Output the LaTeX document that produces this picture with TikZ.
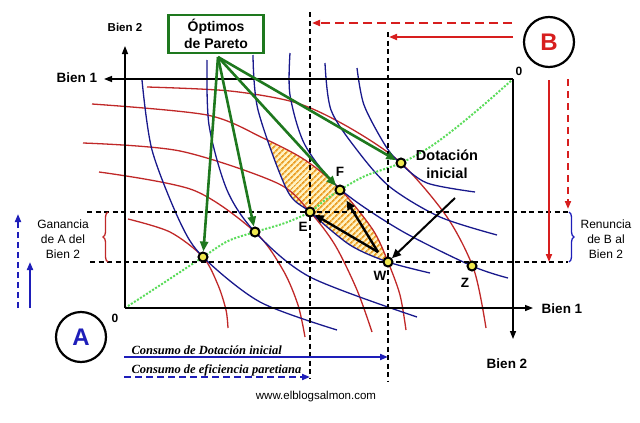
\documentclass[tikz,border=0pt]{standalone}
\usepackage{fontspec}
\setmainfont{Liberation Sans}
\newfontfamily\timesfont{Liberation Serif}
\usepackage{tikz}
\usetikzlibrary{arrows.meta, positioning, decorations.pathreplacing, patterns.meta}
\definecolor{curvered}{RGB}{192,40,40}
\definecolor{curveblue}{RGB}{25,25,140}
\definecolor{optgreen}{RGB}{30,120,30}
\definecolor{contractgreen}{RGB}{90,220,90}
\definecolor{arrowred}{RGB}{215,30,30}
\definecolor{arrowblue}{RGB}{30,30,185}
\definecolor{dotyellow}{RGB}{240,232,80}
\definecolor{hatchorange}{RGB}{235,160,40}
\definecolor{hatchbg}{RGB}{255,242,195}

\begin{document}
\begin{tikzpicture}[x=1pt, y=-1pt,
        axis/.style={line width=1.4pt, -{Triangle[length=8pt, width=6pt]}},
        guide/.style={line width=1.2pt, dash pattern=on 5pt off 3.5pt},
        redcurve/.style={curvered, line width=1.3pt},
        bluecurve/.style={curveblue, line width=1.3pt},
        pareto/.style={circle, draw=black, line width=2pt, fill=dotyellow, inner sep=0pt, minimum size=9pt},
        greenarrow/.style={optgreen, line width=2.6pt, -{Triangle[length=10pt, width=8pt]}},
        blackarrow/.style={black, line width=2.4pt, -{Triangle[length=9pt, width=8pt]}},
        redarrow/.style={arrowred, line width=1.8pt, -{Triangle[length=8pt, width=6pt]}},
        bluearrow/.style={arrowblue, line width=1.8pt, -{Triangle[length=8pt, width=6pt]}},
        lbl/.style={font=\fontsize{13.5}{17}\selectfont\bfseries},
        note/.style={font=\fontsize{12}{15}\selectfont, align=center},
        cons/.style={font=\timesfont\fontsize{12.5}{15}\selectfont\bfseries\itshape, anchor=base west},
        agent/.style={circle, draw=black, line width=2.2pt, minimum size=50pt, font=\fontsize{24}{24}\selectfont\bfseries}
    ]
    \useasboundingbox (0,0) rectangle (640,423);

    % zona de mejora entre las dos curvas que pasan por W
    \begin{scope}
        \clip plot[smooth] coordinates {(92,104) (207,115) (263,138) (305,160) (340,189) (373,230) (388,262) (400,295) (406,330)}
            -- (406,423) -- (0,423) -- (0,104) -- cycle;
        \fill[hatchbg, postaction={pattern={Lines[angle=45, distance=4pt, line width=1.8pt]}, pattern color=hatchorange}]
            plot[smooth] coordinates {(253,55) (258,110) (287,190) (310,212) (350,245) (388,262) (430,273)}
            -- (640,273) -- (640,0) -- (253,0) -- cycle;
    \end{scope}

    % curvas de indiferencia de B
    \draw[redcurve] plot[smooth] coordinates {(147,87) (230,91) (297,103) (350,128) (401,163) (447,217) (474,270) (486,328)};
    \draw[redcurve] plot[smooth] coordinates {(92,104) (207,115) (263,138) (305,160) (340,189) (373,230) (388,262) (400,295) (406,330)};
    \draw[redcurve] plot[smooth] coordinates {(83,143) (180,151) (277,183) (310,212) (335,245) (357,290) (372,332)};
    \draw[redcurve] plot[smooth] coordinates {(99,172) (193,190) (255,232) (283,270) (298,305) (305,337)};
    \draw[redcurve] plot[smooth] coordinates {(128,219) (170,232) (203,257) (218,285) (226,310) (228,328)};

    % curvas de indiferencia de A
    \draw[bluecurve] plot[smooth] coordinates {(142,80) (152,150) (180,222) (203,257) (260,302) (337,330)};
    \draw[bluecurve] plot[smooth] coordinates {(207,60) (209,125) (227,190) (255,232) (310,277) (417,317)};
    \draw[bluecurve] plot[smooth] coordinates {(253,55) (258,110) (287,190) (310,212) (350,245) (388,262) (430,273)};
    \draw[bluecurve] plot[smooth] coordinates {(290,53) (290,95) (305,145) (340,189) (400,230) (472,266) (508,278)};
    \draw[bluecurve] plot[smooth] coordinates {(325,63) (331,110) (357,150) (390,187) (440,217) (497,235)};
    \draw[bluecurve] plot[smooth] coordinates {(357,68) (364,105) (385,145) (400,163) (427,183) (475,192)};

    % curva de contrato
    \draw[contractgreen, line width=2pt, dash pattern=on 2pt off 1.6pt] plot[smooth] coordinates {(125,308) (165,282) (203,257) (228,241) (255,232) (285,223) (310,212) (325,200) (340,190) (365,176) (401,163) (430,147) (457,127) (487,102) (513,79)};

    % lineas guia
    \draw[guide] (87,212) -- (568,212);
    \draw[guide] (90,262) -- (568,262);
    \draw[guide] (310,12) -- (310,378);
    \draw[guide] (388,32) -- (388,382);

    % ejes
    \coordinate (oA) at (125,308);
    \coordinate (oB) at (513,79);
    \draw[axis] (oA) -- (125,46);
    \draw[axis] (oA) -- (533,308);
    \draw[axis] (oB) -- (104,79);
    \draw[axis] (oB) -- (513,339);
    \node[lbl] (b2sup) at (125,27) {\fontsize{11.5}{13}\selectfont Bien 2};
    \node[lbl] (b1izq) at (77,78) {Bien 1};
    \node[lbl] (b1der) at (562,309) {Bien 1};
    \node[lbl] (b2inf) at (507,364) {Bien 2};
    \node[font=\fontsize{12}{12}\selectfont\bfseries] (ceroA) at (115,318) {0};
    \node[font=\fontsize{12}{12}\selectfont\bfseries] (ceroB) at (519,71) {0};

    % puntos
    \node[pareto] (p1) at (203,257) {};
    \node[pareto] (p2) at (255,232) {};
    \node[pareto] (E) at (310,212) {};
    \node[pareto] (F) at (340,190) {};
    \node[pareto] (p5) at (401,163) {};
    \node[pareto] (W) at (388,262) {};
    \node[pareto] (Z) at (472,266) {};
    \node[lbl, below=1.5pt of E, xshift=-7pt] (Elbl) {E};
    \node[lbl, above=4pt of F] (Flbl) {F};
    \node[lbl, below=0pt of W, xshift=-8pt] (Wlbl) {W};
    \node[lbl, below=3.5pt of Z, xshift=-7pt] (Zlbl) {Z};

    % optimos de Pareto
    \node[draw=optgreen, line width=2.4pt, minimum width=95pt, minimum height=38pt, inner sep=0pt,
          align=center, font=\fontsize{14}{17}\selectfont\bfseries] (optimos) at (216,34) {Óptimos\\de Pareto};
    \coordinate (vertice) at (218,57);
    \draw[greenarrow] (vertice) -- (p1);
    \draw[greenarrow] (vertice) -- (p2);
    \draw[greenarrow] (vertice) -- (F);
    \draw[greenarrow] (vertice) -- (p5);

    % movimientos desde W
    \coordinate (wtip) at (378,252);
    \draw[blackarrow] (wtip) -- (E);
    \draw[blackarrow, shorten >=7pt] (wtip) -- (F);
    \node[lbl, align=center, font=\fontsize{14.5}{18}\selectfont\bfseries] (dotacion) at (447,164) {Dotación\\inicial};
    \coordinate (dotcola) at (455,198);
    \draw[blackarrow, line width=2pt] (dotcola) -- (W);

    % agentes
    \node[agent, text=arrowblue] (A) at (81,337) {A};
    \node[agent, text=arrowred] (B) at (549,42) {B};
    \draw[redarrow, dash pattern=on 9pt off 5pt] (512,23) -- (312,23);
    \draw[redarrow] (513,37) -- (389,37);
    \draw[redarrow] (549,80) -- (549,262);
    \draw[redarrow, dash pattern=on 7pt off 5pt] (568,79) -- (568,209);
    \draw[bluearrow, dash pattern=on 6pt off 4pt] (18,308) -- (18,214);
    \draw[bluearrow] (30,308) -- (30,262);

    % llaves
    \draw[curvered, line width=1.3pt, decorate, decoration={brace, amplitude=5pt}] (108,262) -- (108,212);
    \draw[arrowblue, line width=1.3pt, decorate, decoration={brace, amplitude=5pt}] (569,212) -- (569,262);
    \node[note] (ganancia) at (63,239) {Ganancia\\de A del\\Bien 2};
    \node[note] (renuncia) at (606,239) {Renuncia\\de B al\\Bien 2};

    % consumos
    \draw[bluearrow] (124,357) -- (388,357);
    \draw[bluearrow, dash pattern=on 7pt off 4pt] (124,377) -- (310,377);
    \node[cons] (cdot) at (128,354) {Consumo de Dotación inicial};
    \node[cons] (cefi) at (128,373) {Consumo de eficiencia paretiana};

    \node[font=\fontsize{11.5}{13}\selectfont] (web) at (316,397) {www.elblogsalmon.com};
\end{tikzpicture}
\end{document}
